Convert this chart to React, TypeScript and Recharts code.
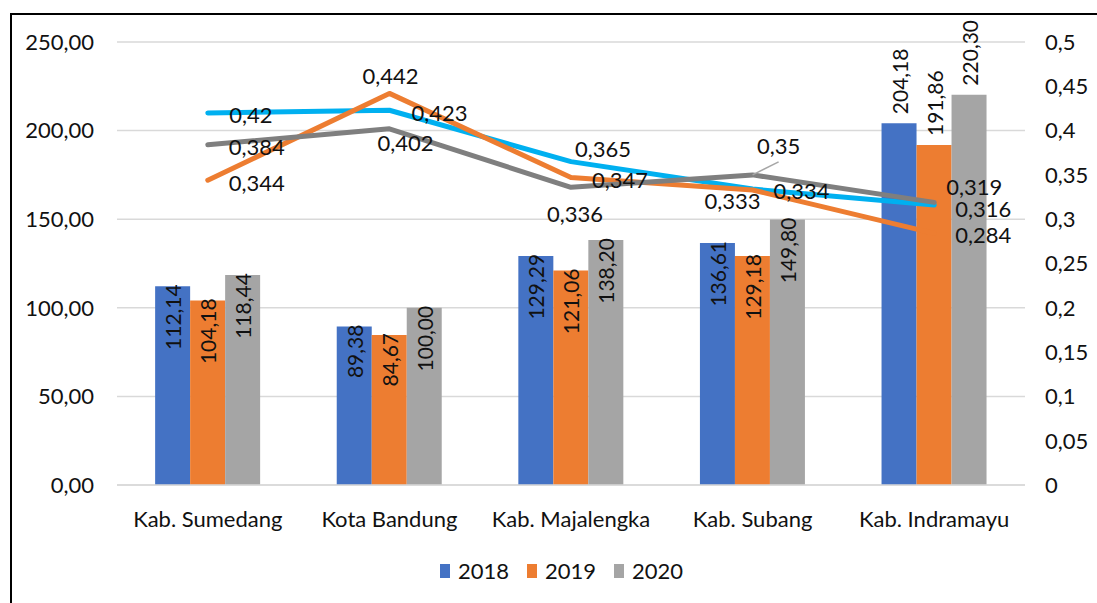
import {
  ComposedChart,
  Bar,
  Line,
  XAxis,
  YAxis,
  CartesianGrid,
  Legend,
  LabelList,
} from "recharts";

const categories = ["Kab. Sumedang", "Kota Bandung", "Kab. Majalengka", "Kab. Subang", "Kab. Indramayu"];
const bars2018 = [112.14, 89.38, 129.29, 136.61, 204.18];
const bars2019 = [104.18, 84.67, 121.06, 129.18, 191.86];
const bars2020 = [118.44, 100.0, 138.2, 149.8, 220.3];
const line2018 = [0.42, 0.423, 0.365, 0.334, 0.316];
const line2019 = [0.344, 0.442, 0.347, 0.333, 0.284];
const line2020 = [0.384, 0.402, 0.336, 0.35, 0.319];
const leftTicks = [0, 50, 100, 150, 200, 250];
const rightTicks = [0, 0.05, 0.1, 0.15, 0.2, 0.25, 0.3, 0.35, 0.4, 0.45, 0.5];

const data = categories.map((name, i) => ({
  name,
  b2018: bars2018[i],
  b2019: bars2019[i],
  b2020: bars2020[i],
  l2018: line2018[i],
  l2019: line2019[i],
  l2020: line2020[i],
}));

// label placement (centre of text relative to the point), Excel moved these by hand
type Off = { dx: number; dy: number; leader?: boolean };
const offBlue: Off[] = [
  { dx: 43, dy: 2 },
  { dx: 50, dy: 2 },
  { dx: 32, dy: -13 },
  { dx: 49, dy: 1 },
  { dx: 49, dy: 3 },
];
const offOrange: Off[] = [
  { dx: 49, dy: 2 },
  { dx: 1, dy: -18 },
  { dx: 49, dy: 2 },
  { dx: -20, dy: 11 },
  { dx: 49, dy: 1 },
];
const offGray: Off[] = [
  { dx: 49, dy: 2 },
  { dx: 16, dy: 14 },
  { dx: 4, dy: 26 },
  { dx: 26, dy: -29, leader: true },
  { dx: 40, dy: -16 },
];

const FONT = "Lato, 'Open Sans', sans-serif";
const FS = 22;
const TXT = "#111";

const comma = (v: number, d?: number) =>
  (d === undefined ? String(v) : v.toFixed(d)).replace(".", ",");

function BarValueLabel(props: any) {
  const { x, y, width, value } = props;
  const cx = Number(x) + Number(width) / 2;
  const top = Number(y);
  const outside = value > 190;
  const ty = outside ? top - 9 : top - 2;
  return (
    <text
      x={cx}
      y={ty}
      transform={`rotate(-90 ${cx} ${ty})`}
      textAnchor={outside ? "start" : "end"}
      dominantBaseline="central"
      fontSize={21}
      fontFamily={FONT}
      fill={TXT}
    >
      {comma(value, 2)}
    </text>
  );
}

const lineLabel = (offs: Off[]) => (props: any) => {
  const { x, y, value, index } = props;
  const o = offs[index] || { dx: 49, dy: 2 };
  const px = Number(x);
  const py = Number(y);
  const lx = px + o.dx;
  const ly = py + o.dy;
  return (
    <g>
      {o.leader && (
        <line x1={px} y1={py} x2={lx} y2={ly + 16} stroke="#A6A6A6" strokeWidth={1.5} />
      )}
      <text
        x={lx}
        y={ly}
        textAnchor="middle"
        dominantBaseline="central"
        fontSize={FS}
        fontFamily={FONT}
        fill={TXT}
      >
        {comma(value)}
      </text>
    </g>
  );
};

function LegendBox(props: any) {
  const items = (props.payload || []).filter((p: any) => p.type !== "none");
  return (
    <div
      style={{
        display: "flex",
        justifyContent: "center",
        alignItems: "center",
        paddingTop: 12,
        paddingLeft: 26,
        fontFamily: FONT,
        fontSize: FS,
        color: TXT,
      }}
    >
      {items.map((p: any) => (
        <div key={p.value} style={{ display: "flex", alignItems: "center", margin: "0 9px" }}>
          <span style={{ display: "inline-block", width: 10, height: 14, background: p.color, marginRight: 8 }} />
          <span>{p.value}</span>
        </div>
      ))}
    </div>
  );
}

export default function App() {
  return (
    <div style={{ position: "absolute", left: 0, top: 0, width: 1097, height: 603, background: "#fff" }}>
      <div
        style={{
          position: "absolute",
          left: 10,
          top: 13,
          width: 1087,
          height: 590,
          borderLeft: "2px solid #000",
          borderTop: "2px solid #000",
          boxSizing: "border-box",
        }}
      />
      <div style={{ position: "absolute", left: 0, top: 0 }}>
        <ComposedChart
          width={1097}
          height={603}
          data={data}
          margin={{ top: 42, right: 0, bottom: 0, left: 0 }}
          barCategoryGap="21%"
          barGap={0}
          style={{ fontFamily: FONT }}
        >
          <CartesianGrid yAxisId="left" vertical={false} stroke="#D9D9D9" strokeWidth={1.5} />
          <XAxis
            dataKey="name"
            height={60}
            tickLine={false}
            axisLine={{ stroke: "#D9D9D9", strokeWidth: 1.5 }}
            tickMargin={20}
            tick={{ fontSize: FS, fill: TXT, fontFamily: FONT }}
            interval={0}
          />
          <YAxis
            yAxisId="left"
            width={117}
            domain={[0, 250]}
            ticks={leftTicks}
            tickLine={false}
            axisLine={false}
            tickMargin={17}
            tickFormatter={(v: number) => comma(v, 2)}
            tick={{ fontSize: FS, fill: TXT, fontFamily: FONT }}
          />
          <YAxis
            yAxisId="right"
            orientation="right"
            width={72}
            domain={[0, 0.5]}
            ticks={rightTicks}
            tickLine={false}
            axisLine={false}
            tickMargin={14}
            tickFormatter={(v: number) => comma(v)}
            tick={{ fontSize: FS, fill: TXT, fontFamily: FONT, textAnchor: "start" }}
          />
          <Legend verticalAlign="bottom" height={58} content={<LegendBox />} />
          <Bar yAxisId="left" dataKey="b2018" name="2018" fill="#4472C4" isAnimationActive={false}>
            <LabelList dataKey="b2018" content={BarValueLabel} />
          </Bar>
          <Bar yAxisId="left" dataKey="b2019" name="2019" fill="#ED7D31" isAnimationActive={false}>
            <LabelList dataKey="b2019" content={BarValueLabel} />
          </Bar>
          <Bar yAxisId="left" dataKey="b2020" name="2020" fill="#A5A5A5" isAnimationActive={false}>
            <LabelList dataKey="b2020" content={BarValueLabel} />
          </Bar>
          <Line
            yAxisId="right"
            dataKey="l2018"
            stroke="#00B0F0"
            strokeWidth={5}
            strokeLinejoin="round"
            strokeLinecap="round"
            dot={false}
            legendType="none"
            isAnimationActive={false}
          >
            <LabelList dataKey="l2018" content={lineLabel(offBlue)} />
          </Line>
          <Line
            yAxisId="right"
            dataKey="l2019"
            stroke="#ED7D31"
            strokeWidth={5}
            strokeLinejoin="round"
            strokeLinecap="round"
            dot={false}
            legendType="none"
            isAnimationActive={false}
          >
            <LabelList dataKey="l2019" content={lineLabel(offOrange)} />
          </Line>
          <Line
            yAxisId="right"
            dataKey="l2020"
            stroke="#7F7F7F"
            strokeWidth={5}
            strokeLinejoin="round"
            strokeLinecap="round"
            dot={false}
            legendType="none"
            isAnimationActive={false}
          >
            <LabelList dataKey="l2020" content={lineLabel(offGray)} />
          </Line>
        </ComposedChart>
      </div>
    </div>
  );
}
